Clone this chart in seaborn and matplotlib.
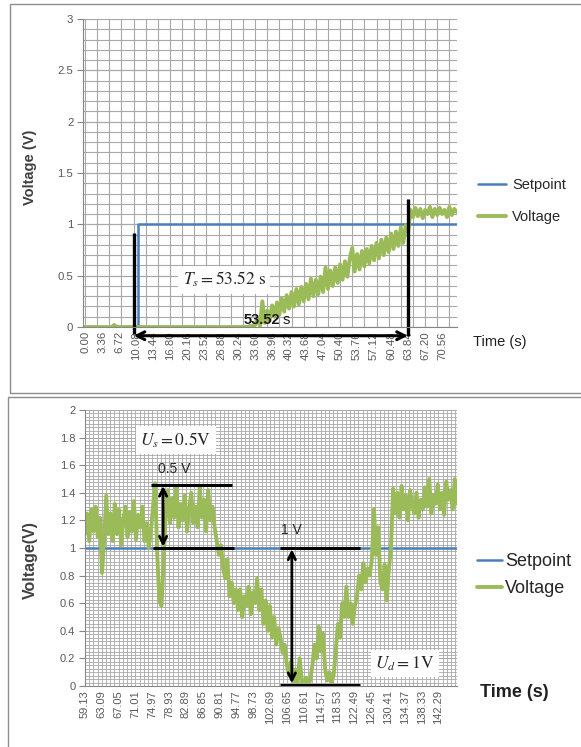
import numpy as np
import pandas as pd
import matplotlib
matplotlib.use("Agg")
import matplotlib.pyplot as plt
from matplotlib.ticker import FixedLocator, MultipleLocator
from matplotlib.patches import Rectangle
import seaborn as sns

# ---------------- data: settling-time test (upper chart) ----------------
top_dt = 0.48          # sampling period (s)
top_voltage = [
    # 0.00 - 33.12 s : output still at rest
    0.00, 0.00, 0.00, 0.00, 0.00, 0.00, 0.00, 0.00, 0.00, 0.00,
    0.00, 0.00, 0.02, 0.00, 0.00, 0.00, 0.00, 0.00, 0.00, 0.00,
    0.00, 0.00, 0.00, 0.00, 0.00, 0.00, 0.00, 0.00, 0.00, 0.00,
    0.00, 0.00, 0.00, 0.00, 0.00, 0.00, 0.00, 0.00, 0.00, 0.00,
    0.00, 0.00, 0.00, 0.00, 0.00, 0.00, 0.00, 0.00, 0.00, 0.00,
    0.00, 0.00, 0.00, 0.00, 0.00, 0.00, 0.00, 0.00, 0.00, 0.00,
    0.00, 0.00, 0.00, 0.00, 0.00, 0.00, 0.00, 0.00, 0.01, 0.01,
    # 33.60 - 63.36 s : noisy rise
    0.02, 0.08, 0.01, 0.25, 0.04, 0.16, 0.06, 0.21, 0.10, 0.24,
    0.12, 0.28, 0.15, 0.31, 0.18, 0.34, 0.20, 0.37, 0.22, 0.39,
    0.25, 0.42, 0.27, 0.47, 0.30, 0.46, 0.32, 0.49, 0.34, 0.58,
    0.37, 0.55, 0.40, 0.58, 0.43, 0.61, 0.46, 0.64, 0.49, 0.67,
    0.77, 0.54, 0.71, 0.56, 0.74, 0.59, 0.76, 0.62, 0.79, 0.65,
    0.82, 0.67, 0.85, 0.70, 0.87, 0.73, 0.91, 0.76, 0.93, 0.79,
    0.97, 0.82, 0.99,
    # 63.84 s onward : settled above the setpoint
    0.93, 1.14, 1.07, 1.16, 1.08, 1.15, 1.06, 1.14, 1.10, 1.17,
    1.07, 1.15, 1.09, 1.16, 1.10, 1.14, 1.07, 1.17, 1.09, 1.15,
    1.12,
]
top_set_t = [0.0, 10.4, 73.9]
top_set_v = [0.0, 1.0, 1.0]
top_xlabels = ["0.00", "3.36", "6.72", "10.08", "13.44", "16.80", "20.16",
               "23.52", "26.88", "30.24", "33.60", "36.96", "40.32", "43.68",
               "47.04", "50.40", "53.76", "57.12", "60.48", "63.84", "67.20",
               "70.56"]
top_ylabels = ["0", "0.5", "1", "1.5", "2", "2.5", "3"]

# ---------------- data: disturbance test (lower chart) ----------------
bot_t0 = 59.13
bot_dt = 0.5
bot_voltage = [
    1.10, 1.25, 1.05, 1.28, 1.12, 1.30, 1.08,
    1.22, 0.82, 1.05, 1.38, 1.10,
    1.25, 1.05, 1.32, 1.10, 1.28, 1.02, 1.20, 1.30, 1.08, 1.26,
    1.12, 1.34, 1.06, 1.24, 1.15, 1.30, 1.05,
    1.18, 1.00, 1.12,
    1.30, 1.47, 0.95, 0.62, 0.58, 0.90, 1.25, 1.42,
    1.18, 1.36, 1.22, 1.44, 1.15, 1.32, 1.20, 1.38, 1.12, 1.28,
    1.40, 1.18, 1.30, 1.15, 1.44, 1.22, 1.35, 1.12, 1.42, 1.20,
    1.30, 1.15,
    1.05, 0.95, 1.02, 0.85,
    0.78, 0.92, 0.65, 0.75, 0.60, 0.70,
    0.55, 0.70, 0.50, 0.65, 0.58, 0.72, 0.52, 0.68, 0.60, 0.78,
    0.55, 0.70,
    0.45, 0.62, 0.40, 0.58, 0.35, 0.50, 0.30, 0.42,
    0.35, 0.24, 0.30, 0.15,
    0.08, 0.18, 0.03, 0.12, 0.02, 0.20, 0.05,
    0.00, 0.06, 0.01, 0.04,
    0.15, 0.30, 0.20, 0.43, 0.25, 0.38, 0.12,
    0.04, 0.10, 0.02, 0.08,
    0.25, 0.45, 0.35, 0.60, 0.50, 0.72,
    0.50, 0.60, 0.45, 0.58,
    0.65, 0.80, 0.70, 0.89, 0.75, 0.85,
    0.80, 0.92, 1.28, 0.95, 1.15, 0.75,
    0.70, 0.88, 0.62, 0.85, 1.00, 1.43,
    1.25, 1.40, 1.22, 1.45, 1.28, 1.38, 1.20, 1.42, 1.30, 1.25,
    1.40, 1.22, 1.35, 1.28, 1.44, 1.30, 1.50, 1.25, 1.38, 1.32,
    1.46, 1.28, 1.40, 1.24, 1.48, 1.35, 1.42, 1.28, 1.50, 1.32,
]
bot_set_t = [59.13, 146.66]
bot_set_v = [1.0, 1.0]
bot_xlabels = ["59.13", "63.09", "67.05", "71.01", "74.97", "78.93", "82.89",
               "86.85", "90.81", "94.77", "98.73", "102.69", "106.65",
               "110.61", "114.57", "118.53", "122.49", "126.45", "130.41",
               "134.37", "138.33", "142.29"]
bot_ylabels = ["0", "0.2", "0.4", "0.6", "0.8", "1", "1.2", "1.4", "1.6",
               "1.8", "2"]

# ---------------- style ----------------
sns.set_theme(style="white")
plt.rcParams["font.family"] = ["Liberation Sans", "DejaVu Sans"]
plt.rcParams["mathtext.fontset"] = "stix"

BLUE = "#4a7ebb"
GREEN = "#9bbb59"
GRID = "#a8a8a8"
TICKC = "#595959"
W, H = 581, 747

fig = plt.figure(figsize=(W / 100, H / 100), dpi=100)


def axes_at(left, top, right, bottom):
    return fig.add_axes([left / W, 1 - bottom / H, (right - left) / W,
                         (bottom - top) / H])


# panel frames
for (x0, y0, x1, y1) in [(10, 4, 583, 393), (8, 397, 583, 750)]:
    fig.add_artist(Rectangle((x0 / W, 1 - y1 / H), (x1 - x0) / W,
                             (y1 - y0) / H, transform=fig.transFigure,
                             fill=False, edgecolor="#8c8c8c", lw=1.0))


def style_axes(ax, xlabels, ylabels, xgrid, ygrid_minor, tick_fs):
    xt = [float(s) for s in xlabels]
    ax.set_xticks(xt)
    ax.set_xticklabels(xlabels, rotation=90, fontsize=tick_fs, color=TICKC)
    yt = [float(s) for s in ylabels]
    ax.set_yticks(yt)
    ax.set_yticklabels(ylabels, fontsize=tick_fs, color=TICKC)
    ax.xaxis.set_minor_locator(FixedLocator(xgrid))
    ax.yaxis.set_minor_locator(MultipleLocator(ygrid_minor))
    ax.xaxis.remove_overlapping_locs = False
    ax.yaxis.remove_overlapping_locs = False
    ax.grid(False)
    ax.xaxis.grid(True, which="minor", color=GRID, lw=0.8)
    ax.yaxis.grid(True, which="both", color=GRID, lw=0.8)
    ax.set_axisbelow(True)
    ax.tick_params(axis="x", which="both", length=0, pad=3)
    ax.tick_params(axis="y", which="major", length=4, width=0.8,
                   color="#868686", pad=3, left=True)
    ax.tick_params(axis="y", which="minor", length=0)
    for s in ("top", "right"):
        ax.spines[s].set_visible(False)
    for s in ("left", "bottom"):
        ax.spines[s].set_color("#868686")
        ax.spines[s].set_linewidth(0.8)


# ================= upper chart =================
ax1 = axes_at(83, 19, 457, 327)
top_t = np.arange(len(top_voltage)) * top_dt
df_top = pd.DataFrame({"t": top_t, "v": top_voltage})
sns.lineplot(x=top_set_t, y=top_set_v, ax=ax1, color=BLUE, lw=1.8,
             drawstyle="steps-post", estimator=None, label="Setpoint")
sns.lineplot(data=df_top, x="t", y="v", ax=ax1, color=GREEN, lw=2.8,
             estimator=None, label="Voltage")
ax1.set_xlim(-0.4, 73.5)
ax1.set_ylim(0, 3)
style_axes(ax1, top_xlabels, top_ylabels, np.arange(0, 73.6, 2.4), 0.1, 8.2)
ax1.set_xlabel("")
ax1.set_ylabel("Voltage (V)", fontsize=10.5, fontweight="bold",
               color="#404040")
ax1.yaxis.set_label_coords(-0.123, 0.52)
ax1.text(1.043, -0.049, "Time (s)", transform=ax1.transAxes, ha="left",
         va="center", fontsize=10.5, color="#202020")
ax1.legend(loc="upper left", bbox_to_anchor=(478 / W, 1 - 178 / H),
           bbox_transform=fig.transFigure, frameon=False, fontsize=10.5,
           handlelength=1.9, handletextpad=0.45, labelspacing=1.25,
           borderpad=0, borderaxespad=0)

# settling-time markers
k = dict(color="black", lw=2.4, solid_capstyle="butt", clip_on=False)
ax1.plot([9.6, 9.6], [-0.07, 0.92], **k)
ax1.plot([63.8, 63.8], [-0.09, 1.25], **k)
ax1.annotate("", xy=(9.6, -0.085), xytext=(63.8, -0.085),
             arrowprops=dict(arrowstyle="<->", color="black", lw=2.2,
                             mutation_scale=14, shrinkA=0, shrinkB=0),
             annotation_clip=False)
ax1.text(38.5, 0.065, "53.52", ha="right", va="center", fontsize=10.5,
         fontweight="bold", color="#1a1a1a")
ax1.text(39.0, 0.065, "s", ha="left", va="center", fontsize=10.5,
         color="#1a1a1a")
ax1.text(27.5, 0.46, r"$T_s = \mathrm{53.52\ s}$", ha="center", va="center",
         fontsize=12.5,
         bbox=dict(boxstyle="square,pad=0.25", fc="white", ec="none"))

# ================= lower chart =================
ax2 = axes_at(85, 410, 457, 686)
bot_t = bot_t0 + np.arange(len(bot_voltage)) * bot_dt
df_bot = pd.DataFrame({"t": bot_t, "v": bot_voltage})
sns.lineplot(x=bot_set_t, y=bot_set_v, ax=ax2, color=BLUE, lw=1.8,
             estimator=None, label="Setpoint")
sns.lineplot(data=df_bot, x="t", y="v", ax=ax2, color=GREEN, lw=2.8,
             estimator=None, label="Voltage")
ax2.set_xlim(59.13, 146.66)
ax2.set_ylim(0, 2)
style_axes(ax2, bot_xlabels, bot_ylabels, np.arange(59.13, 146.7, 0.99),
           0.025, 8.0)
ax2.xaxis.grid(True, which="minor", color=GRID, lw=0.6)
ax2.yaxis.grid(True, which="both", color=GRID, lw=0.6)
ax2.set_xlabel("")
ax2.set_ylabel("Voltage(V)", fontsize=11.5, fontweight="bold",
               color="#404040")
ax2.yaxis.set_label_coords(-0.126, 0.457)
ax2.text(1.062, -0.025, "Time (s)", transform=ax2.transAxes, ha="left",
         va="center", fontsize=13, fontweight="bold", color="#202020")
ax2.legend(loc="upper left", bbox_to_anchor=(477 / W, 1 - 553 / H),
           bbox_transform=fig.transFigure, frameon=False, fontsize=13,
           handlelength=1.4, handletextpad=0.15, labelspacing=0.55,
           borderpad=0, borderaxespad=0)

# overshoot / undershoot markers
k2 = dict(color="black", lw=2.2, solid_capstyle="butt", clip_on=False)
ax2.plot([74.66, 93.7], [1.46, 1.46], **k2)
ax2.plot([75.1, 94.2], [1.0, 1.0], **k2)
ax2.annotate("", xy=(77.5, 1.45), xytext=(77.5, 1.01),
             arrowprops=dict(arrowstyle="<->", color="black", lw=2.0,
                             mutation_scale=13, shrinkA=0, shrinkB=0))
ax2.text(80.1, 1.57, "0.5 V", ha="center", va="center", fontsize=10)
ax2.plot([105.0, 123.8], [1.0, 1.0], **k2)
ax2.plot([105.0, 123.8], [0.01, 0.01], **k2)
ax2.annotate("", xy=(107.8, 0.99), xytext=(107.8, 0.02),
             arrowprops=dict(arrowstyle="<->", color="black", lw=2.0,
                             mutation_scale=13, shrinkA=0, shrinkB=0))
ax2.text(107.6, 1.13, "1 V", ha="center", va="center", fontsize=10)
ax2.text(80.5, 1.78, r"$U_s = \mathrm{0.5V}$", ha="center", va="center",
         fontsize=12.5,
         bbox=dict(boxstyle="square,pad=0.25", fc="white", ec="none"))
ax2.text(134.4, 0.16, r"$U_d = \mathrm{1V}$", ha="center", va="center",
         fontsize=12.5,
         bbox=dict(boxstyle="square,pad=0.25", fc="white", ec="none"))

fig.savefig("out.png", dpi=100)
